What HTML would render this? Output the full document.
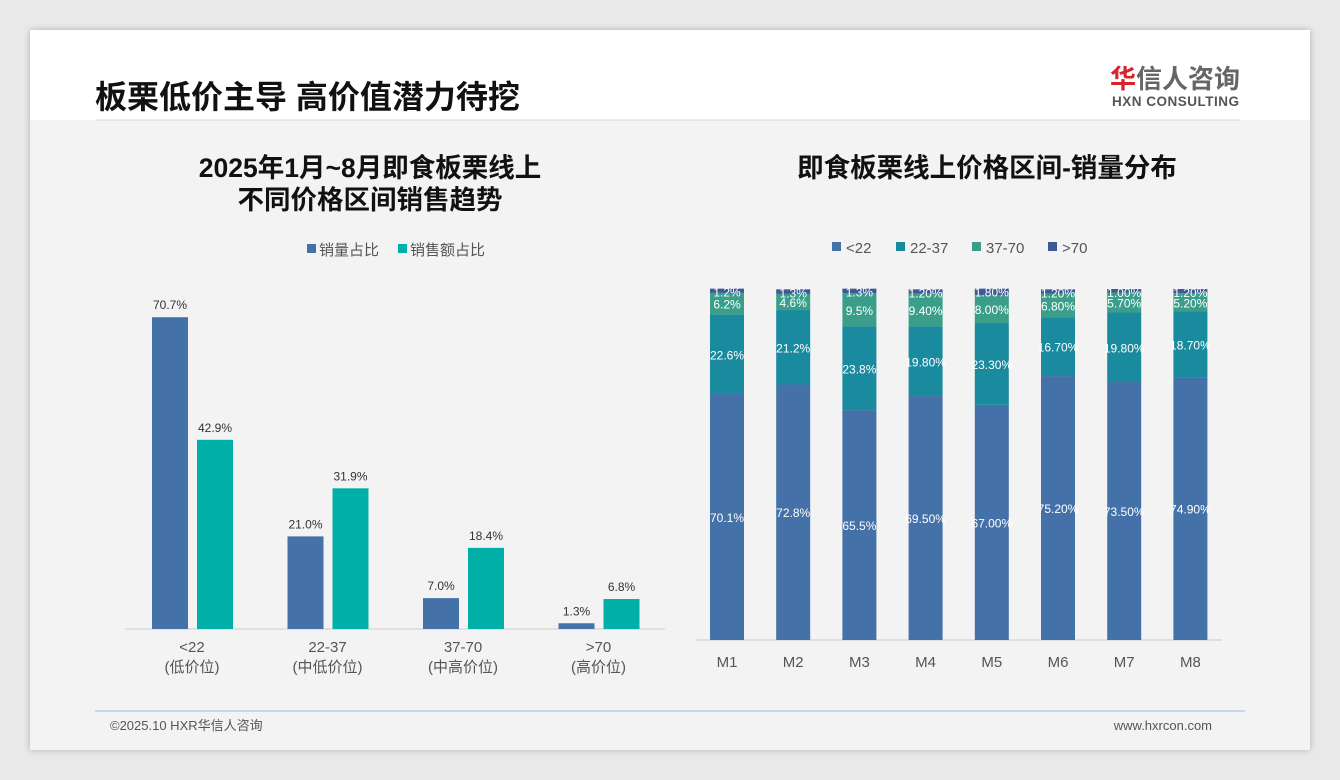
<!DOCTYPE html>
<html><head><meta charset="utf-8">
<style>
body{margin:0;width:1340px;height:780px;background:#e9e9e9;font-family:"Liberation Sans","Noto Sans CJK SC",sans-serif;overflow:hidden}
#card{position:absolute;left:30px;top:30px;width:1280px;height:720px;background:#f3f3f3;box-shadow:0 0 6px rgba(0,0,0,.25)}
</style></head><body>
<div id="card"></div>
<svg id="s" width="1340" height="780" style="position:absolute;left:0;top:0" font-family="Liberation Sans, Noto Sans CJK SC, sans-serif">
<rect x="30" y="30" width="1280" height="90" fill="#ffffff"/>
<text x="95" y="108" font-size="32" font-weight="bold" fill="#111">板栗低价主导 高价值潜力待挖</text>
<line x1="95" y1="120" x2="1240" y2="120" stroke="#d8d8d8"/>
<g>
<text x="1110" y="88" font-size="26" font-weight="bold" fill="#666"><tspan fill="#d9232a">华</tspan>信人咨询</text>
<text x="1112" y="106" font-size="13.5" font-weight="bold" fill="#555" textLength="127">HXN CONSULTING</text>
</g>
<text x="370" y="177" text-anchor="middle" font-size="26.5" font-weight="bold" fill="#111">2025年1月~8月即食板栗线上</text>
<text x="370" y="209" text-anchor="middle" font-size="26.5" font-weight="bold" fill="#111">不同价格区间销售趋势</text>
<text x="987" y="177" text-anchor="middle" font-size="26.5" font-weight="bold" fill="#111">即食板栗线上价格区间-销量分布</text>
<g id="left"></g><g id="right"></g>
<line x1="95" y1="711" x2="1245" y2="711" stroke="#9fb8d8"/>
<text x="110" y="730" font-size="13" fill="#555">©2025.10 HXR华信人咨询</text>
<text x="1212" y="730" text-anchor="end" font-size="13" fill="#555">www.hxrcon.com</text>
</svg>
<script>
const NS="http://www.w3.org/2000/svg";
function mk(p,t,a,txt){const e=document.createElementNS(NS,t);for(const k in a)e.setAttribute(k,a[k]);if(txt!==undefined)e.textContent=txt;p.appendChild(e);return e;}
// left chart data
const leftCats=["<22","22-37","37-70",">70"];
const leftSub=["(低价位)","(中低价位)","(中高价位)","(高价位)"];
const volShare=[70.7,21.0,7.0,1.3];
const salesShare=[42.9,31.9,18.4,6.8];
// right chart data
const months=["M1","M2","M3","M4","M5","M6","M7","M8"];
const segNames=["<22","22-37","37-70",">70"];
const segA=[70.1,72.8,65.5,69.5,67.0,75.2,73.5,74.9];
const segB=[22.6,21.2,23.8,19.8,23.3,16.7,19.8,18.7];
const segC=[6.2,4.6,9.5,9.4,8.0,6.8,5.7,5.2];
const segD=[1.2,1.3,1.3,1.2,1.8,1.2,1.0,1.2];
const segLabels=[
["70.1%","72.8%","65.5%","69.50%","67.00%","75.20%","73.50%","74.90%"],
["22.6%","21.2%","23.8%","19.80%","23.30%","16.70%","19.80%","18.70%"],
["6.2%","4.6%","9.5%","9.40%","8.00%","6.80%","5.70%","5.20%"],
["1.2%","1.3%","1.3%","1.20%","1.80%","1.20%","1.00%","1.20%"]];

const L=document.getElementById('left');
const base=629, yL=v=>base-v*4.41, gx=i=>192+i*135.5;
let lg=mk(L,'g',{});


mk(lg,'rect',{x:307,y:244,width:9,height:9,fill:'#4472a8'});
mk(lg,'text',{x:319,y:255,'font-size':15,fill:'#555'},'销量占比');
mk(lg,'rect',{x:398,y:244,width:9,height:9,fill:'#00b0a8'});
mk(lg,'text',{x:410,y:255,'font-size':15,fill:'#555'},'销售额占比');
let ax=mk(L,'line',{x1:125,x2:665,y1:base,y2:base,stroke:'#ccc'});


leftCats.forEach((c,i)=>{
  const cx=gx(i);
  let b=mk(L,'rect',{x:cx-40,y:yL(volShare[i]),width:36,height:base-yL(volShare[i]),fill:'#4472a8'});
  
  
  mk(L,'text',{x:cx-22,y:yL(volShare[i])-8,'text-anchor':'middle','font-size':12,fill:'#333'},volShare[i].toFixed(1)+'%');
  let b2=mk(L,'rect',{x:cx+5,y:yL(salesShare[i]),width:36,height:base-yL(salesShare[i]),fill:'#00b0a8'});
  
  
  mk(L,'text',{x:cx+23,y:yL(salesShare[i])-8,'text-anchor':'middle','font-size':12,fill:'#333'},salesShare[i].toFixed(1)+'%');
  let t=mk(L,'text',{x:cx,y:652,'text-anchor':'middle','font-size':15,fill:'#555'},c);
  
  
  mk(L,'text',{x:cx,y:672,'text-anchor':'middle','font-size':15,fill:'#555'},leftSub[i]);
});

const R=document.getElementById('right');
const rb=640, sc=3.51, mx=i=>727+i*66.2;
const cols=['#4472a8','#1a8a9e','#3a9e8a','#3d5a94'];
const segs=[segA,segB,segC,segD];
let rg=mk(R,'g',{});


const lx=[832,896,972,1048];
segNames.forEach((n,k)=>{mk(rg,'rect',{x:lx[k],y:242,width:9,height:9,fill:cols[k]});mk(rg,'text',{x:lx[k]+14,y:253,'font-size':15,fill:'#555'},n);});
let ax2=mk(R,'line',{x1:695,x2:1222,y1:rb,y2:rb,stroke:'#ccc'});


months.forEach((m,i)=>{
  let y=rb;
  segs.forEach((s,k)=>{
    const h=s[i]*sc;
    let r=mk(R,'rect',{x:mx(i)-17,y:y-h,width:34,height:h,fill:cols[k]});
    
    
    const ty=k==3?y-h+8:y-h/2+5;
    mk(R,'text',{x:mx(i),y:k==3?Math.max(ty,296):ty,'text-anchor':'middle','font-size':12,fill:'#fff'},segLabels[k][i]);
    y-=h;
  });
  let t=mk(R,'text',{x:mx(i),y:667,'text-anchor':'middle','font-size':15,fill:'#555'},m);
  
  
});
</script>
</body></html>
